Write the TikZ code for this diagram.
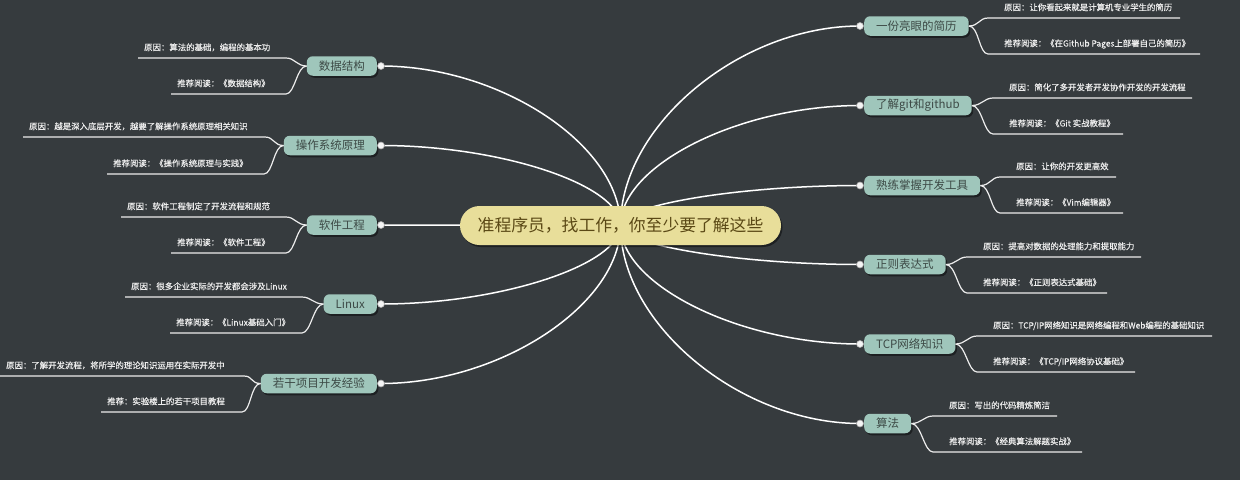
\documentclass[tikz,border=0pt]{standalone}
\usepackage{fontspec}
\setmainfont{Noto Sans CJK SC}
\newfontfamily\leaffont[FakeBold=0.4]{Noto Sans CJK SC}
\usetikzlibrary{shadows}
\definecolor{bgc}{HTML}{363B3E}
\definecolor{subfill}{HTML}{9FC6BB}
\definecolor{subtext}{HTML}{3D4A46}
\definecolor{rootfill}{HTML}{E8DE9A}
\definecolor{roottext}{HTML}{5A4815}
\definecolor{leafc}{HTML}{EDEDED}
\pgfdeclarelayer{back}
\pgfsetlayers{back,main}
\tikzset{
  rootbox/.style={fill=rootfill, rounded corners=19.5pt, minimum width=321pt, minimum height=39pt,
    inner sep=0pt, text=roottext, font=\fontsize{16.8}{20}\selectfont,
    drop shadow={shadow xshift=1.5pt, shadow yshift=-2pt, opacity=0.45, fill=black}},
  subbox/.style={fill=subfill, rounded corners=6pt, minimum height=19.5pt, inner xsep=12pt,
    inner ysep=0pt, text=subtext, font=\fontsize{11.5}{14}\selectfont,
    drop shadow={shadow xshift=1.5pt, shadow yshift=-2pt, opacity=0.45, fill=black}},
  leaftext/.style={inner sep=0pt, text=leafc, font=\leaffont\fontsize{8.4}{10}\selectfont, anchor=base west},
  leafline/.style={draw=leafc, line width=1.2pt},
  mainline/.style={draw=white, line width=1.5pt},
  knob/.style={circle, fill=white!92!gray, draw=gray!70, line width=0.6pt, minimum size=7pt, inner sep=0pt},
}
\newcommand\leafleft[6]{%
  \coordinate (#1far) at (#4,#3);
  \coordinate (#1near) at (#5,#3);
  \node[leaftext] (#1) at (#4+6,#3-7.5) {#6};
  \draw[leafline] (#2.west) .. controls +(-10,0) and +(9,0) .. (#1near) -- (#1far);
}
\newcommand\leafright[6]{%
  \coordinate (#1near) at (#4,#3);
  \coordinate (#1far) at (#5,#3);
  \node[leaftext] (#1) at (#4+16,#3-7.5) {#6};
  \draw[leafline] (#2.east) .. controls +(10,0) and +(-9,0) .. (#1near) -- (#1far);
}
\begin{document}
\begin{tikzpicture}[x=1pt,y=-1pt]
\begin{pgfonlayer}{back}
  \fill[bgc] (0,0) rectangle (1240,480);
\end{pgfonlayer}
\useasboundingbox (0,0) rectangle (1240,480);

% root
\node[rootbox] (root) at (620.5,225.5) {准程序员，找工作，你至少要了解这些};

% left topics
\node[subbox, anchor=east] (ds) at (377,66) {数据结构};
\node[subbox, anchor=east] (os) at (377,145.5) {操作系统原理};
\node[subbox, anchor=east] (se) at (377,225) {软件工程};
\node[subbox, anchor=east] (lx) at (377,304) {Linux};
\node[subbox, anchor=east] (pj) at (377,383.5) {若干项目开发经验};

% right topics
\node[subbox, anchor=west] (cv) at (864,26) {一份亮眼的简历};
\node[subbox, anchor=west] (git) at (864,105.5) {了解git和github};
\node[subbox, anchor=west] (tool) at (864,185.5) {熟练掌握开发工具};
\node[subbox, anchor=west] (re) at (864,264.5) {正则表达式};
\node[subbox, anchor=west] (tcp) at (864,344) {TCP网络知识};
\node[subbox, anchor=west] (alg) at (864,423.5) {算法};

% knobs
\node[knob] (dsk) at ([xshift=4pt]ds.east) {};
\node[knob] (osk) at ([xshift=4pt]os.east) {};
\node[knob] (sek) at ([xshift=4pt]se.east) {};
\node[knob] (lxk) at ([xshift=4pt]lx.east) {};
\node[knob] (pjk) at ([xshift=4pt]pj.east) {};
\node[knob] (cvk) at ([xshift=-4pt]cv.west) {};
\node[knob] (gitk) at ([xshift=-4pt]git.west) {};
\node[knob] (toolk) at ([xshift=-4pt]tool.west) {};
\node[knob] (rek) at ([xshift=-4pt]re.west) {};
\node[knob] (tcpk) at ([xshift=-4pt]tcp.west) {};
\node[knob] (algk) at ([xshift=-4pt]alg.west) {};

% main connectors
\begin{pgfonlayer}{back}
  \draw[mainline] (root.center) .. controls (620.5,145.5) and (501,66) .. (dsk.center);
  \draw[mainline] (root.center) .. controls (620.5,185) and (501,145.5) .. (osk.center);
  \draw[mainline] (root.center) -- (sek.center);
  \draw[mainline] (root.center) .. controls (620.5,264.5) and (501,304) .. (lxk.center);
  \draw[mainline] (root.center) .. controls (620.5,304) and (501,383.5) .. (pjk.center);
  \draw[mainline] (root.center) .. controls (620.5,125.5) and (740,26) .. (cvk.center);
  \draw[mainline] (root.center) .. controls (620.5,165) and (740,105.5) .. (gitk.center);
  \draw[mainline] (root.center) .. controls (620.5,205) and (740,185.5) .. (toolk.center);
  \draw[mainline] (root.center) .. controls (620.5,245) and (740,264.5) .. (rek.center);
  \draw[mainline] (root.center) .. controls (620.5,285) and (740,344) .. (tcpk.center);
  \draw[mainline] (root.center) .. controls (620.5,324) and (740,423.5) .. (algk.center);
\end{pgfonlayer}

% left leaves
\leafleft{dsa}{ds}{58}{138}{286}{原因：算法的基础，编程的基本功}
\leafleft{dsb}{ds}{94}{171}{286}{推荐阅读：《数据结构》}
\leafleft{osa}{os}{137}{23}{265}{原因：越是深入底层开发，越要了解操作系统原理相关知识}
\leafleft{osb}{os}{174}{107}{264}{推荐阅读：《操作系统原理与实践》}
\leafleft{sea}{se}{217}{121}{286}{原因：软件工程制定了开发流程和规范}
\leafleft{seb}{se}{253}{171}{286}{推荐阅读：《软件工程》}
\leafleft{lxa}{lx}{297}{125}{302}{原因：很多企业实际的开发都会涉及Linux}
\leafleft{lxb}{lx}{333}{170}{302}{推荐阅读：《Linux基础入门》}
\leafleft{pja}{pj}{376}{0}{244}{原因：了解开发流程，将所学的理论知识运用在实际开发中}
\leafleft{pjb}{pj}{412}{101}{242}{推荐：实验楼上的若干项目教程}

% right leaves
\leafright{cva}{cv}{18}{988}{1180}{原因：让你看起来就是计算机专业学生的简历}
\leafright{cvb}{cv}{54}{988}{1200}{推荐阅读：《在Github Pages上部署自己的简历》}
\leafright{gita}{git}{98}{993}{1192}{原因：简化了多开发者开发协作开发的开发流程}
\leafright{gitb}{git}{134}{993}{1123}{推荐阅读：《Git 实战教程》}
\leafright{toola}{tool}{177}{1000}{1116}{原因：让你的开发更高效}
\leafright{toolb}{tool}{213}{1000}{1123}{推荐阅读：《Vim编辑器》}
\leafright{rea}{re}{257}{967}{1141}{原因：提高对数据的处理能力和提取能力}
\leafright{reb}{re}{293}{967}{1107}{推荐阅读：《正则表达式基础》}
\leafright{tcpa}{tcp}{336}{977}{1212}{原因：TCP/IP网络知识是网络编程和Web编程的基础知识}
\leafright{tcpb}{tcp}{372}{977}{1135}{推荐阅读：《TCP/IP网络协议基础》}
\leafright{alga}{alg}{416}{933}{1057}{原因：写出的代码精炼简洁}
\leafright{algb}{alg}{452}{933}{1082}{推荐阅读：《经典算法解题实战》}
\end{tikzpicture}
\end{document}
